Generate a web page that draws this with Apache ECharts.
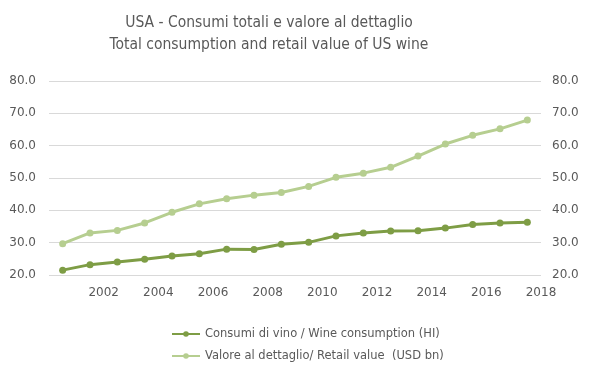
<!DOCTYPE html>
<html><head><meta charset="utf-8">
<script src="https://cdn.jsdelivr.net/npm/echarts@6/dist/echarts.min.js"></script>
<style>html,body{margin:0;padding:0;background:#fff}#c{width:599px;height:378px}</style>
</head><body><div id="c"></div>
<script>
var years = ['2000','2001','2002','2003','2004','2005','2006','2007','2008','2009','2010','2011','2012','2013','2014','2015','2016','2017'];
var consumption = [21.5,23.2,24.0,24.9,25.9,26.6,28.0,27.9,29.5,30.1,32.1,33.0,33.6,33.7,34.5,35.6,36.1,36.3];
var retailValue = [29.7,33.0,33.8,36.1,39.4,42.0,43.6,44.7,45.5,47.4,50.2,51.5,53.3,56.8,60.5,63.2,65.2,67.9];
var yearTickMin = 2000, yearTickMax = 2018, yearTickStep = 2;
var yMin = 20, yMax = 80, yStep = 10;
var titleText = 'USA - Consumi totali e valore al dettaglio\nTotal consumption and retail value of US wine';
var seriesNames = ['Consumi di vino / Wine consumption (HI)', 'Valore al dettaglio/ Retail value  (USD bn)'];

var dark = '#7e9d45', light = '#b6ce90', grey = '#595959';
var chart = echarts.init(document.getElementById('c'));
var yAxisCommon = {
  type: 'value', min: yMin, max: yMax, interval: yStep,
  axisLine: {show: false}, axisTick: {show: false},
  axisLabel: {color: grey, fontFamily: 'DejaVu Sans', fontSize: 12, formatter: function(v){return v.toFixed(1);}},
};
chart.setOption({
  animation: false,
  title: {
    text: titleText, left: 264, top: 7, textAlign: 'center',
    textStyle: {fontFamily: 'Liberation Sans Narrow, DejaVu Sans Condensed, sans-serif', fontWeight: 'normal', fontSize: 15.5, color: grey, lineHeight: 22}
  },
  grid: {left: 49, right: 58, top: 81, bottom: 103},
  xAxis: [
    {type: 'category', data: years, boundaryGap: true, show: false},
    {type: 'value', min: yearTickMin, max: yearTickMax, interval: yearTickStep, position: 'bottom',
     axisLine: {show: false}, axisTick: {show: false}, splitLine: {show: false},
     axisLabel: {showMinLabel: false, color: grey, fontFamily: 'DejaVu Sans', fontSize: 12, margin: 12, formatter: function(v){return String(v);}}}
  ],
  yAxis: [
    Object.assign({}, yAxisCommon, {position: 'left', splitLine: {lineStyle: {color: '#d9d9d9', width: 1}}, axisLabel: Object.assign({}, yAxisCommon.axisLabel, {margin: 13})}),
    Object.assign({}, yAxisCommon, {position: 'right', splitLine: {show: false}, axisLabel: Object.assign({}, yAxisCommon.axisLabel, {margin: 11})})
  ],
  legend: {
    orient: 'vertical', left: 166, top: 323, itemGap: 10, itemWidth: 28, itemHeight: 7,
    textStyle: {color: grey, fontFamily: 'DejaVu Sans', fontSize: 11.5},
    data: seriesNames
  },
  series: [
    {name: seriesNames[0], type: 'line', xAxisIndex: 0, yAxisIndex: 0, data: consumption,
     symbol: 'circle', symbolSize: 7, lineStyle: {color: dark, width: 3}, itemStyle: {color: dark}},
    {name: seriesNames[1], type: 'line', xAxisIndex: 0, yAxisIndex: 0, data: retailValue,
     symbol: 'circle', symbolSize: 7, lineStyle: {color: light, width: 3}, itemStyle: {color: light}}
  ]
});
</script></body></html>
